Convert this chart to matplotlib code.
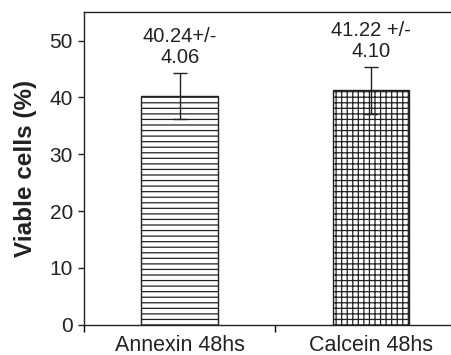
import matplotlib
matplotlib.use("Agg")
import matplotlib.pyplot as plt

# Данные
categories = ["Annexin 48hs", "Calcein 48hs"]
means = [40.24, 41.22]
errors = [4.06, 4.10]
labels = ["40.24+/-\n4.06", "41.22 +/-\n4.10"]
hatches = ["---", "+++"]

plt.rcParams['font.family'] = ['Liberation Sans', 'DejaVu Sans']
plt.rcParams['hatch.linewidth'] = 0.9

fig = plt.figure(figsize=(4.52, 3.55), dpi=100)
ax = fig.add_axes([0.186, 0.085, 0.847, 0.881])

x = [1, 2]
for xi, m, e, h in zip(x, means, errors, hatches):
    ax.bar(xi, m, width=0.4, color='white', edgecolor='#222222', linewidth=1.0, hatch=h)
    ax.errorbar(xi, m, yerr=e, color='#222222', capsize=5, elinewidth=1.0, capthick=1.0)

# Подписи со значениями
for xi, m, e, lab in zip(x, means, errors, labels):
    ax.text(xi, m + e + 1.1, lab, ha='center', va='bottom', fontsize=14.5,
            color='#222222', linespacing=1.1)

ax.set_xlim(0.5, 2.5)
ax.set_ylim(0, 55)
ax.set_yticks([0, 10, 20, 30, 40, 50])
ax.set_xticks(x)
ax.set_xticklabels(categories, fontsize=15.5)
ax.set_xticks([0.5, 1.5, 2.5], minor=True)
ax.tick_params(axis='x', which='major', length=0, pad=7, colors='#222222')
ax.tick_params(axis='x', which='minor', length=5, direction='out', width=1)
ax.tick_params(axis='y', length=4, direction='out', width=1, labelsize=15, pad=4, colors='#222222')

ax.set_ylabel('Viable cells (%)', fontsize=17.5, fontweight='bold', color='#222222', labelpad=9)

for sp in ax.spines.values():
    sp.set_linewidth(1.0)
    sp.set_color('#222222')
ax.spines['right'].set_visible(False)

fig.savefig("out.png", dpi=100)
